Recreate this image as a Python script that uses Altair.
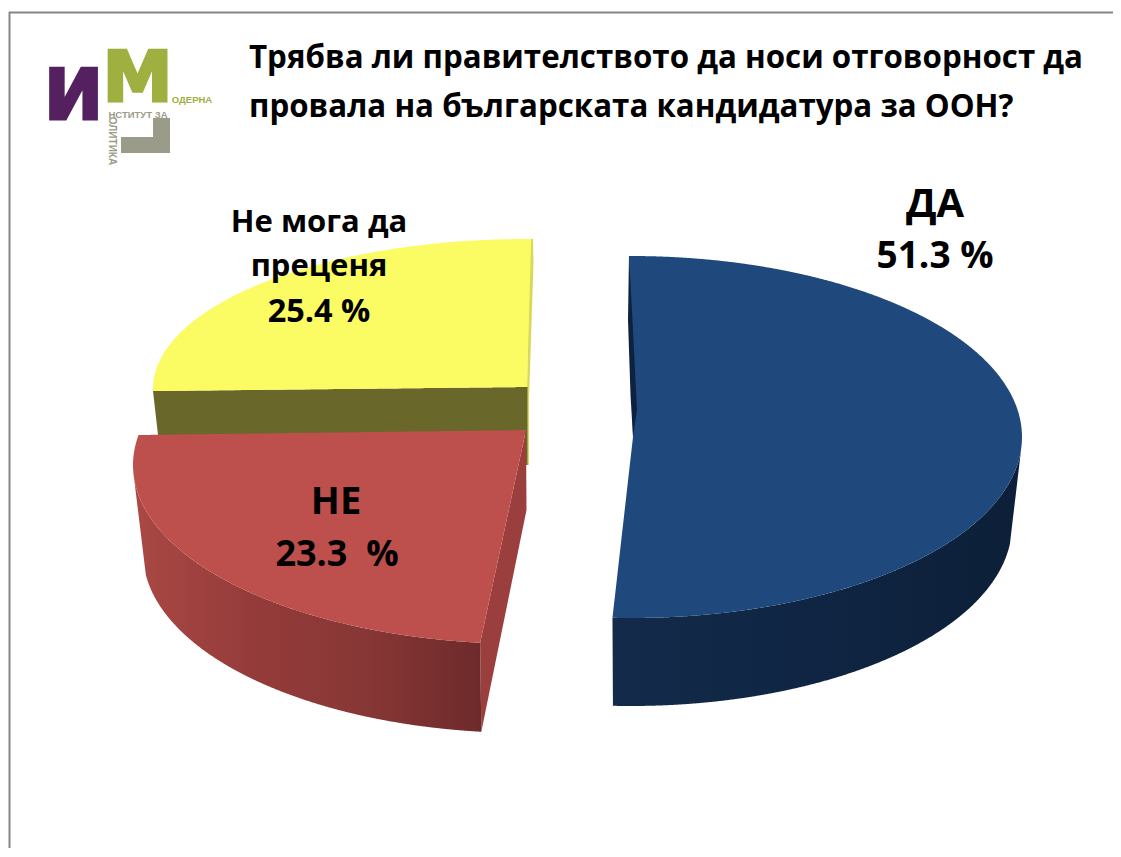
import numpy as np
import pandas as pd
import altair as alt

# ---- chart values ----
categories = ["ДА", "НЕ", "Не мога да преценя"]
shares = [51.3, 23.3, 25.4]
title_lines = ["Трябва ли правителството да носи отговорност да",
               "провала на българската кандидатура за ООН?"]
label_lines = ["ДА", "51.3 %", "НЕ", "23.3\u00a0 %", "Не мога да", "преценя", "25.4 %"]
logo_words = ["И", "М", "ОДЕРНА", "НСТИТУТ ЗА", "ОЛИТИКА"]

# ---- layout of the page (pixels of the 1121x857 picture) ----
W, H = 1105, 840
X = alt.Scale(domain=[8, 8 + W], range=[0, W], zero=False, nice=False)
Y = alt.Scale(domain=[8, 8 + H], range=[0, H], zero=False, nice=False)
xe = lambda f="x": alt.X(f"{f}:Q", scale=X, axis=None)
ye = lambda f="y": alt.Y(f"{f}:Q", scale=Y, axis=None)


def arc(cx, cy, a, b, t0, t1, n=90):
    t = np.radians(np.linspace(t0, t1, n))
    return np.column_stack([cx + a * np.sin(t), cy - b * np.cos(t)])


def sections(points):
    """Vertical sections of a polygon: what an area mark needs."""
    p = np.asarray(points, float)
    q = np.roll(p, -1, axis=0)
    xs = np.unique(np.concatenate([p[:, 0], np.linspace(p[:, 0].min(), p[:, 0].max(), 500)]))
    rows = []
    for x in xs:
        ys = []
        for (x0, y0), (x1, y1) in zip(p, q):
            if min(x0, x1) <= x <= max(x0, x1):
                if x0 == x1:
                    ys += [y0, y1]
                else:
                    ys.append(y0 + (x - x0) / (x1 - x0) * (y1 - y0))
        if ys:
            rows.append({"x": x, "y": min(ys), "y2": max(ys)})
    return pd.DataFrame(rows)


def shape(points, fill):
    return (alt.Chart(sections(points)).mark_area(color=fill, interpolate="linear")
            .encode(x=xe(), y=ye(), y2="y2:Q"))


def grad(*stops):
    n = len(stops) - 1
    return alt.Gradient(gradient="linear", x1=0, x2=1, y1=0, y2=0,
                        stops=[alt.GradientStop(offset=i / n, color=c) for i, c in enumerate(stops)])


# sweep of each slice on the drawing: share of the turn, with the picture's perspective stretch
blue_t0 = -0.3
blue_t1 = blue_t0 + shares[0] * 3.6 * 0.991
red_t0 = 186.7
red_t1 = red_t0 + shares[1] * 3.6 * 1.108
yel_t0 = 269.2
yel_t1 = yel_t0 + shares[2] * 3.6

BT = (631, 437, 391, 181)
BB = (631, 525, 381, 181)
RT = (526, 465, 393, 179)
RB = (526, 553, 383, 180)
YT = (527, 389, 374, 150)

layers = []

# frame
frame = pd.DataFrame({"x": [9, 9.5], "x2": [1113, 9.5], "y": [12.5, 12], "y2": [12.5, 848]})
layers.append(alt.Chart(frame).mark_rule(color="#868686", strokeWidth=2)
              .encode(x=xe(), x2="x2:Q", y=ye(), y2="y2:Q"))

# yellow slice
layers.append(shape([(530, 239), (533, 239), (533.5, 263), (529, 400), (529, 465), (527, 465), (527, 387)], "#d8d85c"))
layers.append(shape([(526, 387), (527.5, 387), (527.5, 465), (526, 465)], "#6a672b"))
layers.append(shape([(153, 391), (527, 387), (527, 435), (158, 435)], "#6a672b"))
layers.append(shape(np.vstack([arc(*YT, yel_t0, yel_t1), [(527, 387)]]), "#fbfb63"))

# red slice
rt_end = arc(*RT, red_t0, red_t0, 1)[0]
rb_end = arc(*RB, red_t0, red_t0, 1)[0]
layers.append(shape([(526, 430), (526.5, 510), rb_end, rt_end], "#9a3f3d"))
layers.append(shape(np.vstack([arc(*RT, red_t0, 268), arc(*RB, 263, red_t0)]),
                    grad("#aa4845", "#953c3a", "#873735", "#6e2a2b")))
layers.append(shape(np.vstack([arc(*RT, red_t0, red_t1), [(526, 430)]]), "#bd4f4c"))

# blue slice
layers.append(shape(np.vstack([arc(*BT, 93, blue_t1), arc(*BB, blue_t1, 96)]),
                    grad("#132a4a", "#0f2543", "#0d1f38")))
layers.append(shape(np.vstack([arc(*BT, blue_t0, 90), [(633, 437)]]), "#1f497d"))
layers.append(shape(np.vstack([arc(*BT, 90, blue_t1), [(633, 437)]]), "#1f497d"))
layers.append(shape([(629, 255), (628, 320), (630.5, 395), (633, 437), (637, 410), (632.5, 320)], "#0e2240"))

# logo
PURPLE, GREEN, GREY = "#54205f", "#9fb041", "#9a9b88"
layers.append(shape([(153, 118), (170, 118), (170, 153), (153, 153)], GREY))
layers.append(shape([(121, 137), (170, 137), (170, 153), (121, 153)], GREY))


def text(rows, font, weight="bold", angle=None, align="center", **extra):
    kw = {"angle": angle} if angle is not None else {}
    kw.update(extra)
    return (alt.Chart(pd.DataFrame(rows))
            .mark_text(font=font, fontWeight=weight, baseline="alphabetic", align=align, **kw)
            .encode(x=xe(), y=ye(), text="t:N",
                    size=alt.Size("s:Q", scale=None),
                    color=alt.Color("c:N", scale=None)))


def row(t, x, y, s, c="#000000"):
    return {"t": t, "x": x, "y": y, "s": s, "c": c}


layers.append(text([row(logo_words[0], 73.5, 118.5, 70, PURPLE)], "DejaVu Sans",
                   stroke=PURPLE, strokeWidth=3))
layers.append(text([row(logo_words[1], 137.5, 100.5, 70, GREEN)], "DejaVu Sans",
                   stroke=GREEN, strokeWidth=3))
layers.append(text([row(logo_words[2], 192, 103, 9.5, GREEN),
                    row(logo_words[3], 138, 117.5, 9.5, GREY)], "Liberation Sans"))
layers.append(text([row(logo_words[4], 109, 141, 10, GREY)], "Liberation Sans", angle=90))

# title
layers.append(text([row(title_lines[0], 249, 68, 31.3),
                    row(title_lines[1], 249, 117, 31.3)], "Open Sans", align="left"))

# slice labels
layers.append(text([row(label_lines[0], 935, 217, 40),
                    row(label_lines[1], 935, 268, 37),
                    row(label_lines[2], 336, 514, 38),
                    row(label_lines[3], 337, 566, 36),
                    row(label_lines[4], 319, 232, 31),
                    row(label_lines[5], 319, 276, 31),
                    row(label_lines[6], 319, 322, 32.5)], "Open Sans"))

chart = (alt.layer(*layers)
         .properties(width=W, height=H, padding=0,
                     autosize=alt.AutoSizeParams(type="none"),
                     background="white")
         .configure_view(stroke=None))
chart.save("out.html", embed_options={"renderer": "svg", "actions": False})
